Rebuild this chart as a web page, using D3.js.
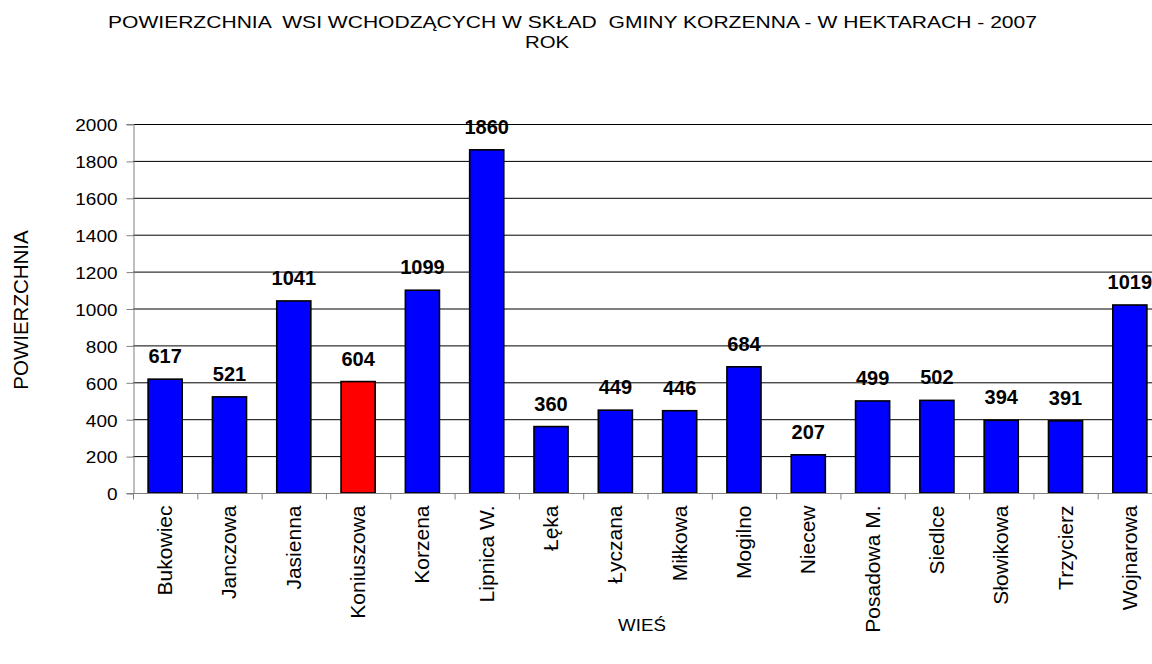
<!DOCTYPE html>
<html>
<head>
<meta charset="utf-8">
<script src="https://cdn.jsdelivr.net/npm/d3@7"></script>
<style>
  body { margin: 0; background: #fff; }
  svg { font-family: Arial, "Liberation Sans", sans-serif; }
</style>
</head>
<body>
<div id="chart"></div>
<script>
// data
const villages = ["Bukowiec", "Janczowa", "Jasienna", "Koniuszowa", "Korzena", "Lipnica W.", "Łęka", "Łyczana",
  "Miłkowa", "Mogilno", "Niecew", "Posadowa M.", "Siedlce", "Słowikowa", "Trzycierz", "Wojnarowa"];
const areas = [617, 521, 1041, 604, 1099, 1860, 360, 449, 446, 684, 207, 499, 502, 394, 391, 1019];
const highlighted = ["Koniuszowa"];
const yTicks = [0, 200, 400, 600, 800, 1000, 1200, 1400, 1600, 1800, 2000];

const W = 1152, H = 664;
const margin = {top: 124, right: -10, bottom: 171, left: 133};

const svg = d3.select("#chart").append("svg")
  .attr("width", W).attr("height", H);

const x = d3.scaleBand()
  .domain(villages)
  .range([margin.left, W - margin.right])
  .paddingInner(0.47).paddingOuter(0.235);

const y = d3.scaleLinear()
  .domain([0, 2000])
  .range([H - margin.bottom, margin.top]);

// gridlines
svg.append("g")
  .selectAll("line")
  .data(yTicks.filter(d => d > 0))
  .join("line")
  .attr("x1", margin.left).attr("x2", W)
  .attr("y1", d => y(d) + 0.5).attr("y2", d => y(d) + 0.5)
  .attr("stroke", "#000").attr("stroke-width", 1);

// y axis
const yAxis = svg.append("g")
  .attr("transform", "translate(" + (margin.left + 0.5) + ",0)")
  .call(d3.axisLeft(y).tickValues(yTicks).tickFormat(d3.format("d")).tickSize(7).tickPadding(9));
yAxis.select(".domain").attr("stroke", "#808080");
yAxis.selectAll(".tick line").attr("stroke", "#808080").attr("transform", "translate(0,0.5)");
yAxis.selectAll("text").style("font-size", "19px").attr("fill", "#000")
  .attr("transform", "scale(1,0.9)").attr("y", 0).attr("dy", "0.4em");

// bars
svg.append("g")
  .selectAll("rect")
  .data(villages)
  .join("rect")
  .attr("x", d => x(d))
  .attr("width", x.bandwidth())
  .attr("y", (d, i) => y(areas[i]))
  .attr("height", (d, i) => y(0) - y(areas[i]))
  .attr("fill", d => highlighted.includes(d) ? "#ff0000" : "#0000ff")
  .attr("stroke", "#000").attr("stroke-width", 1.6);

// x axis
const xStep = x.step();
const xAxis = svg.append("g")
  .attr("transform", "translate(0," + (y(0) + 0.5) + ")");
xAxis.append("line")
  .attr("x1", margin.left).attr("x2", W)
  .attr("stroke", "#808080");
xAxis.selectAll("line.tk")
  .data(d3.range(villages.length + 1))
  .join("line").attr("class", "tk")
  .attr("x1", i => margin.left + 0.5 + i * xStep).attr("x2", i => margin.left + 0.5 + i * xStep)
  .attr("y1", 0).attr("y2", 6)
  .attr("stroke", "#808080");
xAxis.selectAll("text")
  .data(villages)
  .join("text")
  .attr("transform", d => "translate(" + (x(d) + x.bandwidth() / 2 + 7) + ",12) rotate(-90)")
  .attr("text-anchor", "end")
  .style("font-size", "21px")
  .text(d => d);

// value labels
svg.append("g")
  .selectAll("text")
  .data(villages)
  .join("text")
  .attr("x", d => x(d) + x.bandwidth() / 2)
  .attr("y", (d, i) => y(areas[i]) - 16)
  .attr("text-anchor", "middle")
  .style("font-size", "20px")
  .style("font-weight", "bold")
  .text((d, i) => areas[i]);

// titles
svg.append("text")
  .attr("x", 108).attr("y", 28)
  .attr("textLength", 929).attr("lengthAdjust", "spacingAndGlyphs")
  .style("font-size", "17px")
  .style("white-space", "pre")
  .text("POWIERZCHNIA  WSI WCHODZĄCYCH W SKŁAD  GMINY KORZENNA - W HEKTARACH - 2007");
svg.append("text")
  .attr("x", 547).attr("y", 48)
  .attr("text-anchor", "middle")
  .attr("transform", "translate(547,0) scale(1.2,1) translate(-547,0)")
  .style("font-size", "17px")
  .text("ROK");

svg.append("text")
  .attr("transform", "translate(28,310) rotate(-90)")
  .attr("text-anchor", "middle")
  .style("font-size", "20.5px")
  .text("POWIERZCHNIA");

svg.append("text")
  .attr("x", 642).attr("y", 631)
  .attr("text-anchor", "middle")
  .attr("transform", "translate(642,0) scale(1.1,1) translate(-642,0)")
  .style("font-size", "17px")
  .text("WIEŚ");
</script>
</body>
</html>
